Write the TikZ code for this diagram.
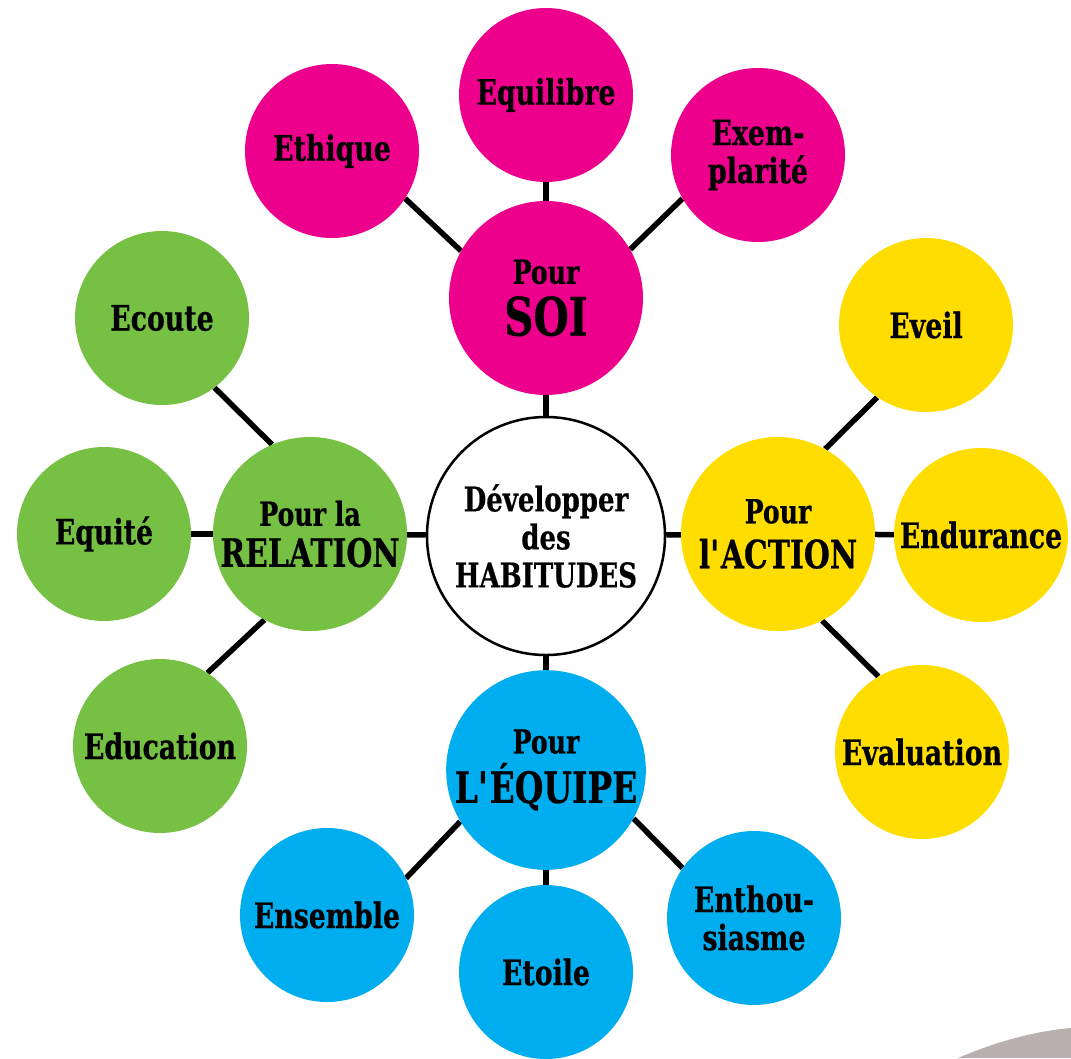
\documentclass[tikz,border=0pt]{standalone}
\usepackage{fontspec}
\setmainfont{DejaVu Serif Condensed}[FakeStretch=0.85, BoldFeatures={FakeBold=0.5}]
\usetikzlibrary{backgrounds}
\definecolor{rose}{RGB}{236,0,140}
\definecolor{vert}{RGB}{118,192,67}
\definecolor{jaune}{RGB}{255,221,0}
\definecolor{bleu}{RGB}{0,174,239}
\definecolor{gris}{RGB}{184,177,175}
\newcommand{\gros}[2]{{\fontsize{#1}{#1}\selectfont #2}}

\begin{document}
\begin{tikzpicture}[x=1pt, y=-1pt,
  leaf/.style={circle, minimum size=174pt, inner sep=0pt, align=center, font=\bfseries\fontsize{35}{38}\selectfont},
  hub/.style={circle, minimum size=194pt, inner sep=0pt, align=center, font=\bfseries\fontsize{33}{38}\selectfont},
  link/.style={line width=5.5pt}]
  \useasboundingbox (0,0) rectangle (1071,1058);
  \fill [gris] (958,1058) .. controls (995,1042) and (1035,1031) .. (1071,1028) -- (1071,1058) -- cycle;
  \node [hub, fill=white, draw=black, line width=2.5pt, minimum size=238pt, font=\bfseries\fontsize{34}{38}\selectfont] (dev) at (546,536) {Développer\\des\\HABITUDES};
  \node [hub, fill=rose] (soi) at (546,298) {Pour\\[11pt]\gros{53}{SOI}};
  \node [hub, fill=vert] (rel) at (310,534) {Pour la\\[3pt]\gros{39}{RELATION}};
  \node [hub, fill=jaune] (act) at (778,534) {Pour\\[7pt]\gros{39}{l\textquotesingle ACTION}};
  \node [hub, fill=bleu] (equ) at (546,770) {Pour\\[8pt]\gros{43}{L\textquotesingle ÉQUIPE}};
  \node [leaf, fill=rose] (equil) at (546,95) {Equilibre};
  \node [leaf, fill=rose] (eth) at (332,151) {Ethique};
  \node [leaf, fill=rose] (exem) at (758,155) {Exem-\\plarité};
  \node [leaf, fill=vert] (ecou) at (162,318) {Ecoute};
  \node [leaf, fill=vert] (equit) at (104,534) {Equité};
  \node [leaf, fill=vert] (educ) at (160,746) {Education};
  \node [leaf, fill=jaune] (eveil) at (926,325) {Eveil};
  \node [leaf, fill=jaune] (endu) at (981,535) {Endurance};
  \node [leaf, fill=jaune] (eval) at (922,752) {Evaluation};
  \node [leaf, fill=bleu] (ens) at (327,915) {Ensemble};
  \node [leaf, fill=bleu] (eto) at (546,972) {Etoile};
  \node [leaf, fill=bleu] (enth) at (754,918) {Enthou-\\siasme};
  \begin{scope}[on background layer]
    \draw [link] (dev) -- (soi);
    \draw [link] (dev) -- (rel);
    \draw [link] (dev) -- (act);
    \draw [link] (dev) -- (equ);
    \draw [link] (soi) -- (equil);
    \draw [link] (soi.151) -- (eth.-33);
    \draw [link] (soi.30) -- (exem.210);
    \draw [link] (rel.113) -- (ecou.-53);
    \draw [link] (rel) -- (equit);
    \draw [link] (rel.242) -- (educ.57);
    \draw [link] (act.61) -- (eveil.236);
    \draw [link] (act) -- (endu);
    \draw [link] (act.-63) -- (eval.120);
    \draw [link] (equ.211) -- (ens.25);
    \draw [link] (equ) -- (eto);
    \draw [link] (equ.-29) -- (enth.145);
  \end{scope}
\end{tikzpicture}
\end{document}
